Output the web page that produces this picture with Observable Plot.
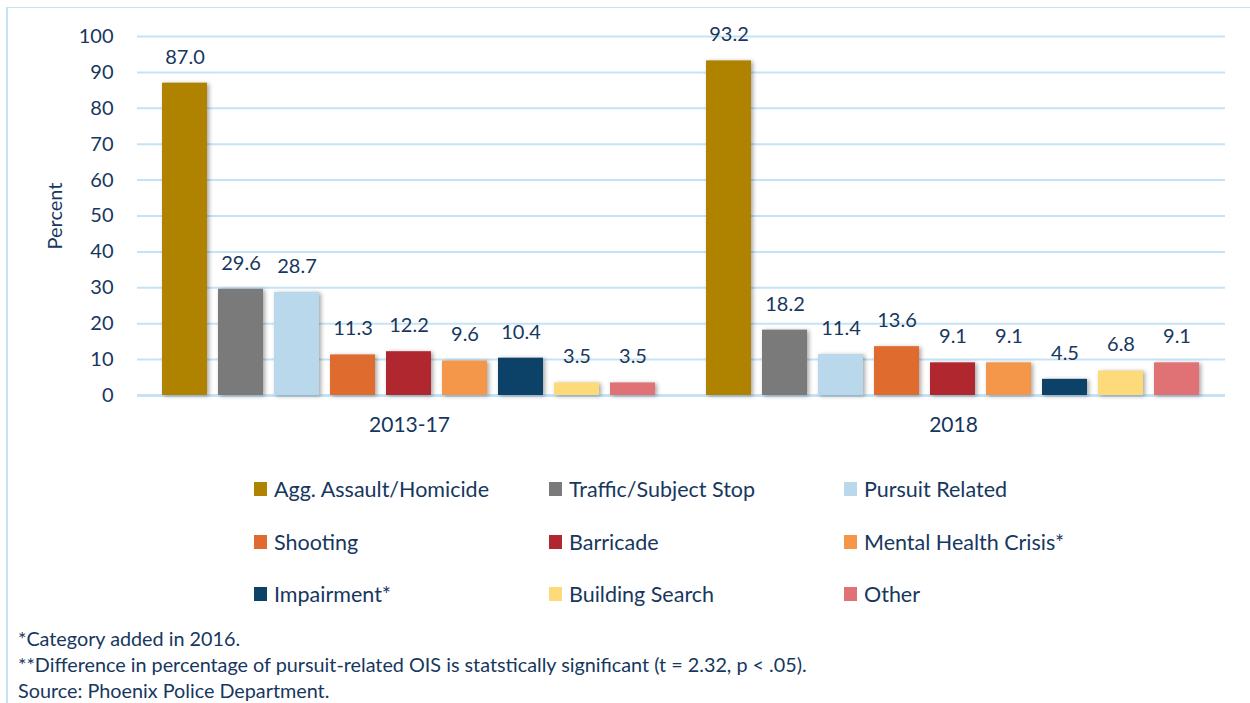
<!DOCTYPE html>
<html><head><meta charset="utf-8">
<script src="https://cdn.jsdelivr.net/npm/d3@7"></script>
<script src="https://cdn.jsdelivr.net/npm/@observablehq/plot@0.6"></script>
<style>
body{margin:0;background:#fff;font-family:Lato,sans-serif;color:#17375e;}
#wrap{position:relative;width:1250px;height:703px;overflow:hidden;}
#frame{position:absolute;left:6px;top:7px;width:1300px;height:800px;border-left:2px solid #c6e3f6;border-top:1px solid #c6e3f6;pointer-events:none;}
#chart svg{display:block;}
#chart g[aria-label="bar"] rect{filter:drop-shadow(2px 1px 2px rgba(0,0,0,0.35));}
#legend{margin-left:254px;padding-top:8px;display:grid;grid-template-columns:295px 295px 295px;grid-auto-rows:52.5px;font-size:21.5px;}
#legend .item{display:flex;align-items:center;white-space:nowrap;}
#legend .sw{display:inline-block;width:13px;height:14px;margin-right:7px;flex:none;}
#notes{margin-left:18px;margin-top:4px;font-size:19.8px;line-height:26px;}
</style>
</head><body>
<div id="wrap">
<div id="chart"></div>
<div id="legend"></div>
<div id="notes"></div>
<div id="frame"></div>
</div>
<script>
const periods = ["2013-17", "2018"];
const categories = ["Agg. Assault/Homicide", "Traffic/Subject Stop", "Pursuit Related", "Shooting", "Barricade", "Mental Health Crisis*", "Impairment*", "Building Search", "Other"];
const values2013_17 = [87.0, 29.6, 28.7, 11.3, 12.2, 9.6, 10.4, 3.5, 3.5];
const values2018 = [93.2, 18.2, 11.4, 13.6, 9.1, 9.1, 4.5, 6.8, 9.1];
const colors = ["#af8300", "#7a7a7b", "#b9d8ec", "#e06b2e", "#b0272f", "#f5974a", "#0c4168", "#fddb7a", "#e07275"];
const yTicks = [0, 10, 20, 30, 40, 50, 60, 70, 80, 90, 100];
const yLabel = "Percent";
const notes = [
  "*Category added in 2016.",
  "**Difference in percentage of pursuit-related OIS is statstically significant (t = 2.32, p < .05).",
  "Source: Phoenix Police Department."
];

const data = [];
categories.forEach((c, i) => {
  data.push({period: periods[0], category: c, value: values2013_17[i]});
  data.push({period: periods[1], category: c, value: values2018[i]});
});

const navy = "#17375e";
const grid = "#c6e3f6";

const chart = Plot.plot({
  width: 1250,
  height: 455,
  marginLeft: 137,
  marginRight: 25,
  marginTop: 36,
  marginBottom: 60,
  style: {fontFamily: "Lato, sans-serif", fontSize: "20px", color: navy, background: "transparent"},
  fx: {domain: periods, padding: 0, label: null},
  x: {domain: categories, paddingInner: 0.19, paddingOuter: 0.4, axis: null},
  y: {domain: [0, 100]},
  color: {domain: categories, range: colors},
  marks: [
    Plot.gridY(yTicks, {stroke: grid, strokeOpacity: 1, strokeWidth: 2}),
    Plot.ruleY([0], {stroke: grid, strokeWidth: 3}),
    Plot.barY(data, {fx: "period", x: "category", y: "value", fill: "category"}),
    Plot.text(data, {fx: "period", x: "category", y: "value", text: d => d.value.toFixed(1), dy: -26, lineAnchor: "middle", fill: navy, fontSize: 20}),
    Plot.axisY(yTicks, {tickSize: 0, tickPadding: 24, fontSize: 20, label: null}),
    Plot.text([yLabel], {fx: () => periods[0], frameAnchor: "left", dx: -82, rotate: -90, textAnchor: "middle", lineAnchor: "middle", fill: navy, fontSize: 20}),
    Plot.axisFx({anchor: "bottom", tickSize: 0, tickPadding: 22, fontSize: 21, label: null})
  ]
});
document.getElementById("chart").appendChild(chart);

const legend = d3.select("#legend");
categories.forEach((c, i) => {
  const item = legend.append("div").attr("class", "item");
  item.append("span").attr("class", "sw").style("background", colors[i]);
  item.append("span").text(c);
});
d3.select("#notes").selectAll("div").data(notes).join("div").text(d => d);
</script>
</body></html>
